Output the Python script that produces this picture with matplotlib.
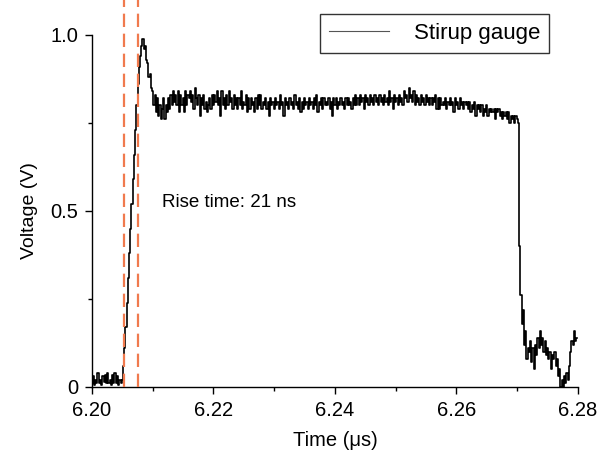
import numpy as np
import matplotlib
matplotlib.use("Agg")
import matplotlib.pyplot as plt
from matplotlib.ticker import MultipleLocator, FixedLocator, FixedFormatter

plt.rcParams['font.family'] = ['Liberation Sans', 'DejaVu Sans']

# Stirup gauge signal, sampled every 0.0002 us starting at 6.200 us
t_start = 6.200
t_step = 0.0002
voltage = [
    0.01, 0.03, 0.005, 0.02, 0.01, 0.04, 0.01, 0.02, 0.005, 0.03,    # 6.200
    0.015, 0.035, 0.01, 0.04, 0.01, 0.02, 0.005, 0.035, 0.01, 0.04,  # 6.202
    0.01, 0.03, 0.005, 0.02, 0.01, 0.02, 0.06, 0.11, 0.17, 0.24,     # 6.204
    0.31, 0.38, 0.45, 0.52, 0.59, 0.66, 0.73, 0.80, 0.86, 0.91,      # 6.206
    0.94, 0.97, 0.99, 0.96, 0.97, 0.93, 0.92, 0.88, 0.89, 0.85,      # 6.208
    0.84, 0.80, 0.83, 0.78, 0.82, 0.77, 0.80, 0.76, 0.79, 0.82,      # 6.210
    0.76, 0.80, 0.78, 0.82, 0.79, 0.83, 0.80, 0.84, 0.81, 0.83,      # 6.212
    0.80, 0.84, 0.78, 0.83, 0.80, 0.82, 0.78, 0.84, 0.80, 0.83,      # 6.214
    0.82, 0.84, 0.81, 0.83, 0.79, 0.85, 0.82, 0.80, 0.83, 0.77,      # 6.216
    0.82, 0.80, 0.83, 0.79, 0.81, 0.78, 0.80, 0.82, 0.79, 0.83,      # 6.218
    0.80, 0.83, 0.81, 0.84, 0.80, 0.82, 0.77, 0.84, 0.80, 0.82,      # 6.220
    0.79, 0.83, 0.80, 0.84, 0.81, 0.82, 0.79, 0.83, 0.80, 0.82,      # 6.222
    0.79, 0.82, 0.80, 0.84, 0.79, 0.81, 0.80, 0.83, 0.78, 0.82,      # 6.224
    0.79, 0.82, 0.80, 0.81, 0.78, 0.82, 0.79, 0.83, 0.80, 0.83,      # 6.226
    0.79, 0.81, 0.80, 0.82, 0.79, 0.81, 0.77, 0.82, 0.80, 0.81,      # 6.228
    0.79, 0.82, 0.80, 0.81, 0.79, 0.83, 0.80, 0.81, 0.77, 0.82,      # 6.230
    0.80, 0.81, 0.79, 0.82, 0.80, 0.81, 0.79, 0.83, 0.80, 0.81,      # 6.232
    0.79, 0.82, 0.78, 0.81, 0.79, 0.82, 0.80, 0.81, 0.79, 0.82,      # 6.234
    0.80, 0.81, 0.79, 0.82, 0.80, 0.83, 0.78, 0.81, 0.80, 0.82,      # 6.236
    0.79, 0.82, 0.80, 0.81, 0.80, 0.82, 0.79, 0.81, 0.77, 0.82,      # 6.238
    0.80, 0.82, 0.79, 0.81, 0.80, 0.82, 0.80, 0.81, 0.79, 0.82,      # 6.240
    0.80, 0.82, 0.80, 0.81, 0.79, 0.82, 0.80, 0.83, 0.80, 0.82,      # 6.242
    0.80, 0.83, 0.81, 0.82, 0.79, 0.83, 0.81, 0.82, 0.80, 0.83,      # 6.244
    0.81, 0.82, 0.80, 0.83, 0.81, 0.82, 0.80, 0.83, 0.81, 0.82,      # 6.246
    0.80, 0.83, 0.81, 0.82, 0.80, 0.84, 0.81, 0.82, 0.79, 0.83,      # 6.248
    0.81, 0.82, 0.80, 0.83, 0.81, 0.82, 0.80, 0.84, 0.82, 0.83,      # 6.250
    0.81, 0.85, 0.82, 0.83, 0.81, 0.84, 0.80, 0.83, 0.81, 0.82,      # 6.252
    0.80, 0.83, 0.81, 0.82, 0.80, 0.83, 0.81, 0.82, 0.80, 0.82,      # 6.254
    0.80, 0.82, 0.81, 0.83, 0.79, 0.82, 0.79, 0.82, 0.80, 0.81,      # 6.256
    0.80, 0.82, 0.79, 0.81, 0.80, 0.82, 0.80, 0.81, 0.78, 0.82,      # 6.258
    0.80, 0.81, 0.79, 0.82, 0.80, 0.81, 0.79, 0.81, 0.80, 0.81,      # 6.260
    0.79, 0.81, 0.78, 0.80, 0.79, 0.81, 0.77, 0.80, 0.79, 0.80,      # 6.262
    0.78, 0.80, 0.77, 0.79, 0.78, 0.80, 0.77, 0.79, 0.78, 0.79,      # 6.264
    0.78, 0.79, 0.76, 0.79, 0.78, 0.79, 0.77, 0.78, 0.76, 0.78,      # 6.266
    0.77, 0.78, 0.76, 0.78, 0.75, 0.77, 0.76, 0.77, 0.75, 0.77,      # 6.268
    0.76, 0.75, 0.40, 0.26, 0.18, 0.22, 0.12, 0.16, 0.08, 0.11,      # 6.270
    0.10, 0.13, 0.07, 0.11, 0.05, 0.12, 0.09, 0.14, 0.11, 0.16,      # 6.272
    0.12, 0.14, 0.10, 0.13, 0.09, 0.11, 0.08, 0.10, 0.05, 0.09,      # 6.274
    0.08, 0.10, 0.06, 0.08, 0.03, 0.05, 0.0, 0.02, 0.0, 0.03,        # 6.276
    0.01, 0.04, 0.02, 0.06, 0.10, 0.13, 0.12, 0.16, 0.13, 0.14,      # 6.278
]
time = t_start + t_step * np.arange(len(voltage))

rise_markers = [6.2053, 6.2076]
x_ticks = [6.20, 6.22, 6.24, 6.26, 6.28]
x_tick_labels = ["6.20", "6.22", "6.24", "6.26", "6.28"]
y_ticks = [0, 0.5, 1.0]
y_tick_labels = ["0", "0.5", "1.0"]

W, H = 603, 459
fig = plt.figure(figsize=(W / 100, H / 100), dpi=100)
ax = fig.add_axes([92 / W, 1 - 387 / H, (578 - 92) / W, (387 - 35) / H])

ax.plot(time, voltage, color='black', lw=1.2, drawstyle='steps-mid',
        label='Stirup gauge')

for xm in rise_markers:
    ax.axvline(xm, ymin=0, ymax=1.1, color='#f07a4e', lw=1.6,
               dashes=(6, 3), clip_on=False, zorder=3)

ax.set_xlim(6.20, 6.28)
ax.set_ylim(0, 1.0)

ax.xaxis.set_major_locator(FixedLocator(x_ticks))
ax.xaxis.set_major_formatter(FixedFormatter(x_tick_labels))
ax.xaxis.set_minor_locator(MultipleLocator(0.01))
ax.yaxis.set_major_locator(FixedLocator(y_ticks))
ax.yaxis.set_major_formatter(FixedFormatter(y_tick_labels))
ax.yaxis.set_minor_locator(MultipleLocator(0.25))

for s in ['top', 'right']:
    ax.spines[s].set_visible(False)
for s in ['left', 'bottom']:
    ax.spines[s].set_linewidth(1.0)

ax.tick_params(which='major', direction='out', length=5, width=1.0,
               labelsize=14.5, pad=5)
ax.tick_params(which='minor', direction='out', length=3, width=1.0)

ax.set_xlabel('Time (μs)', fontsize=14.5, labelpad=8)
ax.set_ylabel('Voltage (V)', fontsize=14, labelpad=9)

ax.text(6.2115, 0.523, 'Rise time: 21 ns', fontsize=13.5, va='center', ha='left')

leg = ax.legend(loc='upper right', bbox_to_anchor=(549 / W, 1 - 14 / H),
                bbox_transform=fig.transFigure, fontsize=16, frameon=True,
                fancybox=False, edgecolor='black', borderpad=0.4,
                handlelength=2.7, handletextpad=1.1, borderaxespad=0)
leg.get_frame().set_linewidth(1.0)
for line in leg.get_lines():
    line.set_linewidth(0.8)
    line.set_color('#555555')

fig.savefig('out.png', dpi=100)
